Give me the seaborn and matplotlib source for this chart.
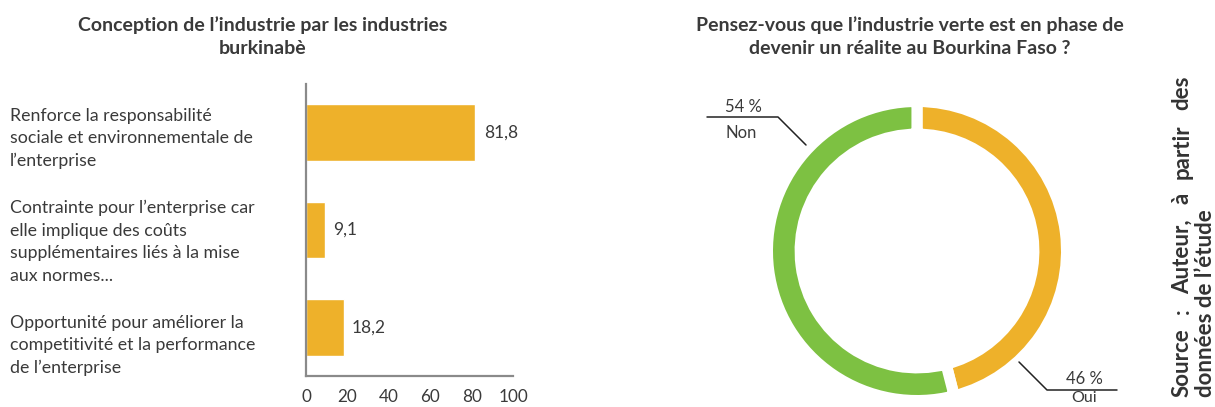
import matplotlib
matplotlib.use("Agg")
import matplotlib.pyplot as plt
import seaborn as sns
import pandas as pd
from matplotlib.lines import Line2D

# ---------------- data ----------------
categories = [
    "Renforce la responsabilité\nsociale et environnementale de\nl’enterprise",
    "Contrainte pour l’enterprise car\nelle implique des coûts\nsupplémentaires liés à la mise\naux normes...",
    "Opportunité pour améliorer la\ncompetitivité et la performance\nde l’enterprise",
]
bar_values = [81.8, 9.1, 18.2]
x_ticks = [0, 20, 40, 60, 80, 100]

pie_labels = ["Oui", "Non"]
pie_values = [46, 54]
pie_pct_text = ["46 %", "54 %"]

title_left = "Conception de l’industrie par les industries\nburkinabè"
title_right = "Pensez-vous que l’industrie verte est en phase de\ndevenir un réalite au Bourkina Faso ?"
source_line1 = ["Source", ":", "Auteur,", "à", "partir", "des"]
source_line2 = "données de l’étude"

# ---------------- style ----------------
ORANGE = "#EEB12A"
GREEN = "#7DC142"
TEXT = "#3a3a3a"
SPINE = "#8a8a8a"

sns.set_theme(style="white")
plt.rcParams["font.family"] = ["Lato", "DejaVu Sans"]

W, H = 1215, 407
fig = plt.figure(figsize=(W / 100, H / 100), dpi=100)


def box(x0, y0, x1, y1):
    return [x0 / W, 1 - y1 / H, (x1 - x0) / W, (y1 - y0) / H]


def fx(x):
    return x / W


def fy(y):
    return 1 - y / H


# ---------------- bar chart ----------------
ax = fig.add_axes(box(306, 84, 513, 376))
df = pd.DataFrame({"cat": categories, "val": bar_values})
sns.barplot(data=df, x="val", y="cat", orient="h", color=ORANGE,
            saturation=1, width=0.58, ax=ax)
ax.set_xlim(0, 100)
ax.set_ylim(2.5, -0.5)
ax.set_xticks(x_ticks)
ax.set_xticklabels([str(t) for t in x_ticks], fontsize=12.3, color=TEXT)
ax.set_yticks([])
ax.set_xlabel("")
ax.set_ylabel("")
ax.tick_params(axis="x", length=0, pad=9)
for s in ["top", "right"]:
    ax.spines[s].set_visible(False)
for s in ["left", "bottom"]:
    ax.spines[s].set_color(SPINE)
    ax.spines[s].set_linewidth(1.6)

ax.bar_label(ax.containers[0],
             labels=[f"{v:.1f}".replace(".", ",") for v in bar_values],
             padding=6, fontsize=12.5, color=TEXT)

label_offsets_px = [6, 12, 18]
for i, (lab, dy) in enumerate(zip(categories, label_offsets_px)):
    ax.annotate(lab, xy=(0, i), xycoords=("axes fraction", "data"),
                xytext=(-296, -dy), textcoords="offset pixels",
                ha="left", va="center", fontsize=12.8, color=TEXT,
                linespacing=1.5, annotation_clip=False)

fig.text(fx(263), fy(37), title_left, ha="center", va="center",
         fontsize=14, fontweight="bold", color=TEXT, linespacing=1.42)

# ---------------- donut ----------------
axp = fig.add_axes(box(773, 107, 1061, 395))
lw_pt = 8
half = (lw_pt / 72 * 100) / 2 / 144
ring = 0.15
axp.pie(pie_values, colors=[ORANGE, GREEN], startangle=90, counterclock=False,
        radius=1 + half,
        wedgeprops=dict(width=ring + 2 * half, edgecolor="white", linewidth=lw_pt))
axp.set_xlim(-1, 1)
axp.set_ylim(-1, 1)
axp.set_aspect("auto")
axp.axis("off")

fig.text(fx(910), fy(37), title_right, ha="center", va="center",
         fontsize=14, fontweight="bold", color=TEXT, linespacing=1.42)

# callouts
LINE = "#222222"
fig.add_artist(Line2D([fx(707), fx(778), fx(806)], [fy(117), fy(117), fy(145)],
                      color=LINE, lw=1.1, transform=fig.transFigure))
fig.add_artist(Line2D([fx(1019), fx(1047), fx(1117)], [fy(362), fy(390), fy(390)],
                      color=LINE, lw=1.1, transform=fig.transFigure))
fig.text(fx(743), fy(107), pie_pct_text[1], ha="center", va="center", fontsize=12, color=TEXT)
fig.text(fx(741), fy(133), pie_labels[1], ha="center", va="center", fontsize=12, color=TEXT)
fig.text(fx(1084), fy(379), pie_pct_text[0], ha="center", va="center", fontsize=12, color=TEXT)
fig.text(fx(1084), fy(398), pie_labels[0], ha="center", va="center", fontsize=11.5, color=TEXT)

# ---------------- source (rotated, justified line 1) ----------------
SRC_FS = 16
SRC_COLOR = "#333333"
fig.canvas.draw()
renderer = fig.canvas.get_renderer()
widths = []
tmp = []
for w in source_line1:
    t = fig.text(0, 0, w, rotation=90, fontsize=SRC_FS, fontweight="bold")
    widths.append(t.get_window_extent(renderer).height)
    tmp.append(t)
for t in tmp:
    t.remove()
y_start, y_end = 397, 75
gap = ((y_start - y_end) - sum(widths)) / (len(source_line1) - 1)
ypos = y_start
for w, wd in zip(source_line1, widths):
    fig.text(fx(1182), fy(ypos), w, rotation=90, ha="center", va="bottom",
             fontsize=SRC_FS, fontweight="bold", color=SRC_COLOR)
    ypos -= wd + gap
fig.text(fx(1205), fy(397), source_line2, rotation=90, ha="center", va="bottom",
         fontsize=SRC_FS, fontweight="bold", color=SRC_COLOR)

fig.savefig("out.png", dpi=100, facecolor="white")
